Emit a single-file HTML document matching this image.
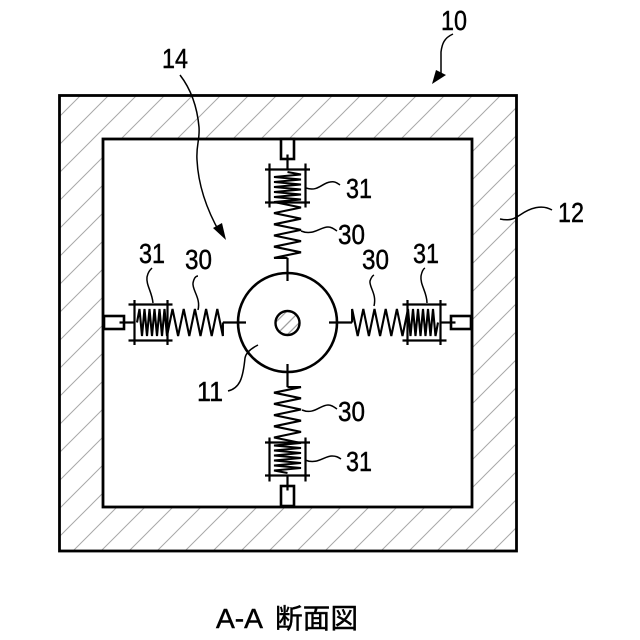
<!DOCTYPE html>
<html>
<head>
<meta charset="utf-8">
<style>
html,body{margin:0;padding:0;background:#fff}
svg{display:block}
text{font-family:"Liberation Sans","Noto Sans CJK JP",sans-serif;fill:#000;stroke:#000;stroke-width:.45}
</style>
</head>
<body>
<svg width="640" height="640" viewBox="0 0 640 640" xmlns="http://www.w3.org/2000/svg">
<defs>
<pattern id="h" patternUnits="userSpaceOnUse" width="28" height="28" x="8" y="0">
<path d="M-7 7L7 -7M0 28L28 0M21 35L35 21" stroke="#a8a8a8" stroke-width="1" fill="none"/>
</pattern>
<g id="a" fill="none" stroke="#000">
<rect x="-6.5" y="-183.5" width="13" height="20" stroke-width="2.6" fill="#fff"/>
<path d="M0 -168V-153" stroke-width="2.200"/>
<path d="M-22.5 -153H22.5M-22.5 -120H22.5M-18 -159V-115M18 -159V-115" stroke-width="2.200"/>
<path d="M0 -150.500L13.500 -148 -13.500 -145.500 13.500 -143 -13.500 -140.500 13.500 -138 -13.500 -135.500 13.500 -133 -13.500 -130.500 13.500 -128 -13.500 -125.500 13.500 -123 -13.500 -120.500 13.500 -115 -13.500 -109.400 13.500 -103.800 -13.500 -98.200 13.500 -92.600 -13.500 -87 13.500 -81.400 -13.500 -75.800 13.500 -70.200 -13.500 -64.600 0 -64.600" stroke-width="2.100" stroke-linejoin="miter"/>
<path d="M0 -64.600V-41.500" stroke-width="2.200"/>
</g>
</defs>
<rect width="640" height="640" fill="#fff"/>
<path fill-rule="evenodd" d="M59 95H517V551H59ZM103 139V507H472V139Z" fill="url(#h)"/>
<rect x="59.500" y="95.500" width="457" height="455.500" fill="none" stroke="#000" stroke-width="2.800"/>
<rect x="103" y="139" width="369" height="368" fill="none" stroke="#000" stroke-width="2.800"/>
<use href="#a" transform="translate(287.500 322.500)"/>
<use href="#a" transform="translate(287.500 322.500) rotate(90)"/>
<use href="#a" transform="translate(287.500 322.500) rotate(180)"/>
<use href="#a" transform="translate(287.500 322.500) rotate(270)"/>
<circle cx="287.500" cy="322.500" r="49.500" fill="none" stroke="#000" stroke-width="2.600"/>
<circle cx="287.500" cy="323" r="12" fill="#fff"/>
<clipPath id="c"><circle cx="287.500" cy="323" r="12"/></clipPath>
<path d="M270 328L293 305M276 335L300 311M284 338L306 316" stroke="#a0a0a0" stroke-width="1.300" clip-path="url(#c)"/>
<circle cx="287.500" cy="323" r="12" fill="none" stroke="#000" stroke-width="2.400"/>
<g fill="none" stroke="#000" stroke-width="1.500">
<path d="M306 188C318 192 322 183 330 182C335 181 337 183 340 185"/>
<path d="M301 231C313 236 320 227 328 227C332 227 334 229 337 231"/>
<path d="M302 410C314 415 320 405 328 405C332 405 334 407 337 409"/>
<path d="M305 460C317 465 324 456 332 456C336 456 338 457 341 459"/>
<path d="M153 303C152 292 146 285 147 277C148 272 150 270 152 268"/>
<path d="M198 310C201 298 192 290 193 283C194 278 196 276 198 276"/>
<path d="M374 306C377 294 369 287 370 281C371 278 372 276 374 275"/>
<path d="M427 303C427 292 420 285 421 276C422 271 423 269 425 268"/>
<path d="M500 219C510 221 514 219 520 215C530 208 542 204 552 210"/>
<path d="M228 391C240 388 243 378 245 358C246 352 252 348 258 345"/>
<path d="M180 75C190 88 197 105 199 127C200 140 196 145 197 160C198 180 204 205 220 233"/>
<path d="M453 34C444 38 442 44 441 52L441 74"/>
</g>
<path d="M226 240L213 228 222 223Z" fill="#000"/>
<path d="M432 84L436 70 446 75Z" fill="#000"/>
<g font-size="28">
<text x="441" y="30" textLength="26" lengthAdjust="spacingAndGlyphs">10</text>
<text x="162" y="68" textLength="26" lengthAdjust="spacingAndGlyphs">14</text>
<text x="558" y="222" textLength="26" lengthAdjust="spacingAndGlyphs">12</text>
<text x="197" y="401" textLength="26" lengthAdjust="spacingAndGlyphs">11</text>
<text x="346" y="198" textLength="26" lengthAdjust="spacingAndGlyphs">31</text>
<text x="338" y="244" textLength="27" lengthAdjust="spacingAndGlyphs">30</text>
<text x="338" y="421" textLength="27" lengthAdjust="spacingAndGlyphs">30</text>
<text x="346" y="471" textLength="26" lengthAdjust="spacingAndGlyphs">31</text>
<text x="139" y="263" textLength="26" lengthAdjust="spacingAndGlyphs">31</text>
<text x="185" y="269" textLength="27" lengthAdjust="spacingAndGlyphs">30</text>
<text x="362" y="269" textLength="27" lengthAdjust="spacingAndGlyphs">30</text>
<text x="413" y="263" textLength="26" lengthAdjust="spacingAndGlyphs">31</text>
</g>
<text x="216" y="628" font-size="28" textLength="47" lengthAdjust="spacingAndGlyphs">A-A</text>
<text x="275" y="628" font-size="27.500" textLength="83" lengthAdjust="spacing">断面図</text>
</svg>
</body>
</html>
